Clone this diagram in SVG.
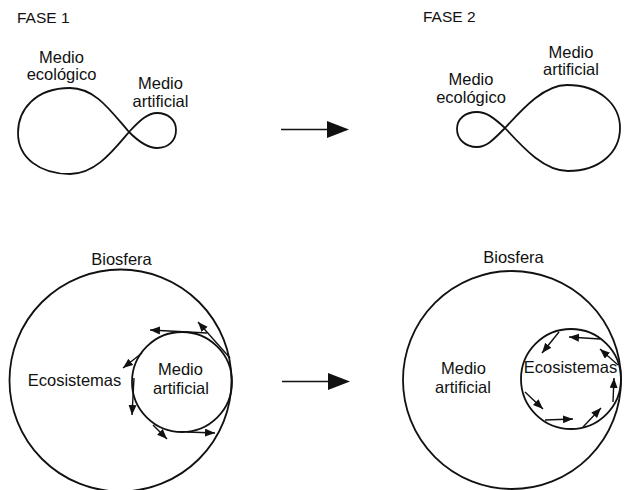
<svg xmlns="http://www.w3.org/2000/svg" width="624" height="490" viewBox="0 0 624 490">
<defs>
<style>
.t{font-family:"Liberation Sans",Arial,sans-serif;font-size:16.5px;fill:#111;text-anchor:middle}
.h{font-family:"Liberation Sans",Arial,sans-serif;font-size:15.5px;fill:#111}
.c{fill:none;stroke:#111;stroke-width:1.8}
.a{fill:none;stroke:#111;stroke-width:1.4}
.big{fill:none;stroke:#111;stroke-width:1.6}
</style>
<marker id="ah" markerUnits="userSpaceOnUse" markerWidth="12" markerHeight="10" refX="10" refY="4" orient="auto">
<path d="M0,0 L10,4 L0,8 z" fill="#111"/>
</marker>
</defs>
<rect width="624" height="490" fill="#fff"/>
<text class="h" x="17" y="23">FASE 1</text>
<text class="h" x="423" y="22">FASE 2</text>
<g id="fase1-loop">
<path class="c" d="M129,132 C110,110 95,88 70,88 C35,88 18,110 18,133 C18,158 40,174 70,174 C95,174 112,152 129,132 C140,120 148,113 157,113 C168,113 176,120 176,130 C176,141 168,148 157,148 C147,148 138,141 129,132 Z"/>
</g>
<g id="fase1-ecologico"><text class="t" x="61.5" y="63">Medio</text><text class="t" x="61.5" y="80">ecológico</text></g>
<g id="fase1-artificial"><text class="t" x="160.5" y="89">Medio</text><text class="t" x="160.5" y="107">artificial</text></g>
<g id="fase2-loop">
<path class="c" d="M505,128 C493,117 486,112 477,112 C465,112 457,119 457,129 C457,139 465,147 477,147 C487,147 494,139 505,128 C525,106 545,85 567,85 C600,85 620,105 620,128 C620,152 600,171 568,171 C545,171 525,150 505,128 Z"/>
</g>
<g id="fase2-ecologico"><text class="t" x="471" y="85">Medio</text><text class="t" x="471" y="103">ecológico</text></g>
<g id="fase2-artificial"><text class="t" x="571" y="58">Medio</text><text class="t" x="571" y="75">artificial</text></g>
<g id="biosfera1">
<circle class="c" cx="120.5" cy="380.5" r="111"/>
<text class="t" x="121.5" y="265">Biosfera</text>
<text class="t" x="74.5" y="386">Ecosistemas</text>
</g>
<g id="artificial1">
<circle class="c" cx="182" cy="382" r="50"/>
<text class="t" x="180.5" y="375">Medio</text>
<text class="t" x="181" y="394">artificial</text>
</g>
<g id="biosfera2">
<circle class="c" cx="512" cy="380" r="109"/>
<text class="t" x="513.5" y="263">Biosfera</text>
<text class="t" x="463.5" y="374">Medio</text>
<text class="t" x="463" y="393">artificial</text>
</g>
<g id="ecosistemas2">
<circle class="c" cx="571" cy="379" r="50"/>
<text class="t" x="570.5" y="373">Ecosistemas</text>
</g>
<g id="connectors">
<line class="big" x1="281" y1="129.5" x2="329" y2="129.5"/>
<polygon points="327,121 349,129.5 327,138" fill="#111"/>
<line class="big" x1="282" y1="381.5" x2="330" y2="381.5"/>
<polygon points="328,373 350,381.5 328,390" fill="#111"/>
<line class="a" x1="207" y1="333" x2="150" y2="330" marker-end="url(#ah)"/>
<line class="a" x1="230" y1="358" x2="198" y2="322" marker-end="url(#ah)"/>
<line class="a" x1="142" y1="353" x2="123" y2="368" marker-end="url(#ah)"/>
<line class="a" x1="134" y1="378" x2="132" y2="415" marker-end="url(#ah)"/>
<line class="a" x1="153" y1="425" x2="167" y2="439" marker-end="url(#ah)"/>
<line class="a" x1="187" y1="432" x2="215" y2="433" marker-end="url(#ah)"/>
<line class="a" x1="600" y1="339" x2="569" y2="337" marker-end="url(#ah)"/>
<line class="a" x1="559" y1="332" x2="542" y2="353" marker-end="url(#ah)"/>
<line class="a" x1="618" y1="365" x2="600" y2="349" marker-end="url(#ah)"/>
<line class="a" x1="613" y1="402" x2="614" y2="378" marker-end="url(#ah)"/>
<line class="a" x1="583" y1="427" x2="601" y2="408" marker-end="url(#ah)"/>
<line class="a" x1="545" y1="420" x2="573" y2="419" marker-end="url(#ah)"/>
<line class="a" x1="525" y1="392" x2="543" y2="409" marker-end="url(#ah)"/>
</g>
</svg>
